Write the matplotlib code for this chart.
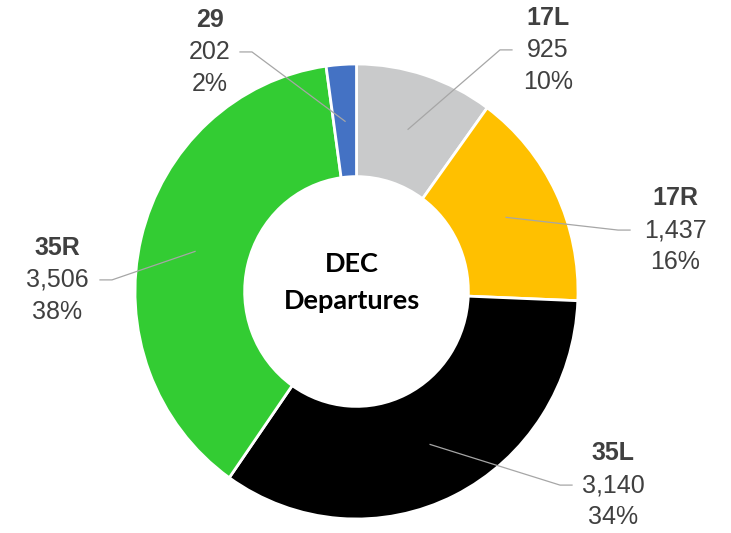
import numpy as np
import matplotlib
matplotlib.use("Agg")
import matplotlib.pyplot as plt

# runway departures, clockwise from the top
runways = ["17L", "17R", "35L", "35R", "29"]
departures = [925, 1437, 3140, 3506, 202]
colors = ["#C9CACB", "#FFC000", "#000000", "#33CC33", "#4472C4"]

# label block position (x, y of the middle line) and leader line end x, in pie units
labelPos = {
    "17L": (0.864, 1.062, 0.702),
    "17R": (1.438, 0.270, 1.235),
    "35L": (1.158, -0.851, 0.973),
    "35R": (-1.352, 0.051, -1.158),
    "29": (-0.661, 1.053, -0.526),
}

total = sum(departures)
textColor = "#404040"
lineColor = "#A6A6A6"

fig = plt.figure(figsize=(7.31, 5.33), dpi=100)
# pie is slightly taller than wide in the reference
ax = fig.add_axes([135 / 731, 14 / 533, 443 / 731, 455 / 533])

wedges, _ = ax.pie(departures, colors=colors, startangle=90, counterclock=False,
                   radius=1.0, wedgeprops=dict(width=0.495, edgecolor="white", linewidth=2))
ax.set_aspect("auto")
ax.set_xlim(-1, 1)
ax.set_ylim(-1, 1)
ax.axis("off")

lineStep = 32  # pixels between label lines

for wedge, name, val in zip(wedges, runways, departures):
    midAngle = np.deg2rad((wedge.theta1 + wedge.theta2) / 2)
    ax0, ay0 = 0.75 * np.cos(midAngle), 0.75 * np.sin(midAngle)
    tx, ty, ex = labelPos[name]
    # short horizontal piece next to the text, then diagonal into the slice
    side = 1 if ex > tx else -1
    elbowX = ex + side * 12 / 221.5
    ax.plot([ax0, elbowX, ex], [ay0, ty, ty], color=lineColor, linewidth=0.9,
            clip_on=False, zorder=3)

    pct = round(val / total * 100)
    ax.annotate(name, (tx, ty), xytext=(0, lineStep), textcoords="offset pixels",
                ha="center", va="center", fontsize=18, fontweight="bold",
                color=textColor, family="Liberation Sans", annotation_clip=False)
    ax.annotate(f"{val:,}", (tx, ty), ha="center", va="center", fontsize=18,
                color=textColor, family="Liberation Sans", annotation_clip=False)
    ax.annotate(f"{pct}%", (tx, ty), xytext=(0, -lineStep), textcoords="offset pixels",
                ha="center", va="center", fontsize=18, color=textColor,
                family="Liberation Sans", annotation_clip=False)

ax.text(-0.02, 0.12, "DEC", ha="center", va="center", fontsize=19.5, fontweight="bold",
        family="Lato", color="black")
ax.text(-0.02, -0.04, "Departures", ha="center", va="center", fontsize=19.5,
        fontweight="bold", family="Lato", color="black")

fig.savefig("out.png", dpi=100)
